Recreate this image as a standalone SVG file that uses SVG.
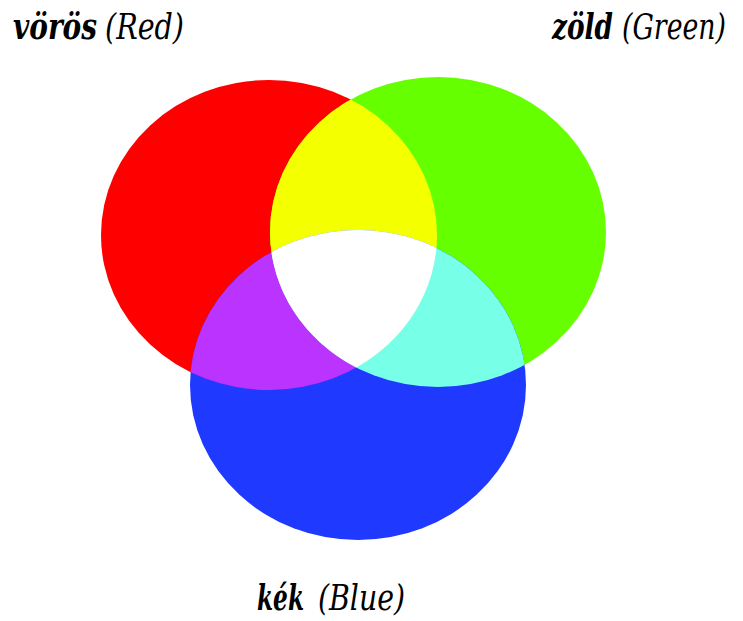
<svg xmlns="http://www.w3.org/2000/svg" width="743" height="621" viewBox="0 0 743 621">
  <style>
    .lbl { font-family: 'DejaVu Serif Condensed', 'DejaVu Serif', serif; font-size: 35px; font-style: italic; fill: #000; }
    .b { font-weight: bold; }
  </style>
  <defs>
    <ellipse id="eR" cx="269" cy="235" rx="168" ry="155"/>
    <ellipse id="eG" cx="438" cy="232" rx="168" ry="155"/>
    <ellipse id="eB" cx="358" cy="385" rx="168" ry="155"/>
    <clipPath id="cR"><use href="#eR"/></clipPath>
    <clipPath id="cG"><use href="#eG"/></clipPath>
    <clipPath id="cRG" clip-path="url(#cR)"><use href="#eG"/></clipPath>
  </defs>
  <rect width="743" height="621" fill="#ffffff"/>
  <g id="red"><use href="#eR" fill="#ff0000"/></g>
  <g id="green"><use href="#eG" fill="#66ff00"/></g>
  <g id="blue"><use href="#eB" fill="#2039ff"/></g>
  <g id="yellow"><use href="#eG" fill="#f4ff00" clip-path="url(#cR)"/></g>
  <g id="magenta"><use href="#eB" fill="#bb33ff" clip-path="url(#cR)"/></g>
  <g id="cyan"><use href="#eB" fill="#77ffe8" clip-path="url(#cG)"/></g>
  <g id="white"><use href="#eB" fill="#ffffff" clip-path="url(#cRG)"/></g>
  <g id="label-red">
    <text class="lbl b" x="13" y="39" textLength="84" lengthAdjust="spacingAndGlyphs">vörös</text>
    <text class="lbl" x="105" y="39" textLength="79" lengthAdjust="spacingAndGlyphs">(Red)</text>
  </g>
  <g id="label-green">
    <text class="lbl b" x="552" y="39" textLength="61" lengthAdjust="spacingAndGlyphs">zöld</text>
    <text class="lbl" x="622" y="39" textLength="104" lengthAdjust="spacingAndGlyphs">(Green)</text>
  </g>
  <g id="label-blue">
    <text class="lbl b" x="257" y="610" textLength="47" lengthAdjust="spacingAndGlyphs">kék</text>
    <text class="lbl" x="318" y="610" textLength="87" lengthAdjust="spacingAndGlyphs">(Blue)</text>
  </g>
</svg>
